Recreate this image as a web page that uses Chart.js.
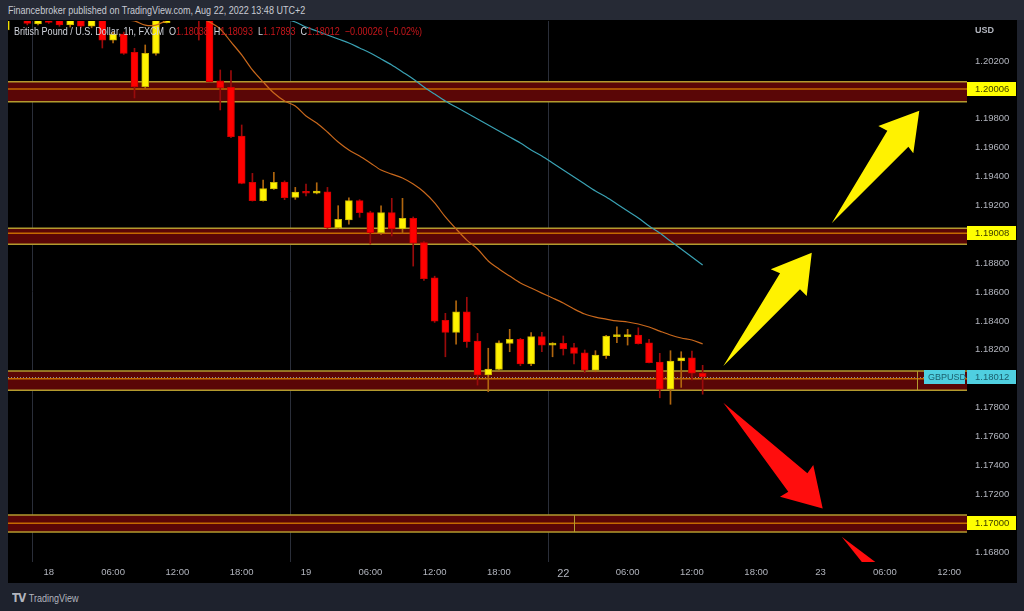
<!DOCTYPE html>
<html>
<head>
<meta charset="utf-8">
<script src="https://cdn.jsdelivr.net/npm/chart.js@4.4.0/dist/chart.umd.min.js"></script>
<style>
  html, body { margin: 0; padding: 0; width: 1024px; height: 611px; overflow: hidden; background: #1e222d;
    font-family: "Liberation Sans", sans-serif; }
  #head { position: absolute; left: 0; top: 0; width: 1024px; height: 20px; background: #262a35; }
  #head span { position: absolute; left: 8px; top: 0; color: #c8cbd3; font-size: 10.5px; line-height: 20px;
    white-space: nowrap; transform: scaleX(0.86); transform-origin: 0 50%; }
  #wrap { position: absolute; left: 8px; top: 20px; width: 1009px; height: 563px; background: #000; }
  #foot { position: absolute; left: 12px; top: 590px; color: #b2b5be; font-size: 10.5px; line-height: 16px;
    white-space: nowrap; transform: scaleX(0.86); transform-origin: 0 50%; }
  #foot b { font-family: "DejaVu Sans", sans-serif; font-weight: 900; font-size: 12px; letter-spacing: -1px; margin-right: 4px; }
</style>
</head>
<body>
<div id="head"><span>Financebroker published on TradingView.com, Aug 22, 2022 13:48 UTC+2</span></div>
<div id="wrap"><canvas id="canvas" width="1009" height="563"></canvas></div>
<div id="foot"><b>TV</b>TradingView</div>
<script>
// GBPUSD, 1h candles, FXCM. bar index 0 = Aug 18 00:00
let firstBar = -4;

let opens = [
  1.20415, 1.2062, 1.2056, 1.20456, 1.2054, 1.2052, 1.20449, 1.2052, 1.20442, 1.2053,
  1.20345, 1.20387, 1.2026, 1.20022, 1.20253, 1.20465, 1.2060, 1.2072, 1.2065, 1.2056,
  1.20062, 1.20018, 1.19681, 1.1936, 1.19233, 1.19314, 1.19362, 1.19256, 1.19295, 1.19284,
  1.19295, 1.19046, 1.19099, 1.19233, 1.1915, 1.19011, 1.1915, 1.19037, 1.19111, 1.18942,
  1.18699, 1.18404, 1.18321, 1.18464, 1.18261, 1.18026, 1.18065, 1.18244, 1.18273, 1.18102,
  1.18291, 1.18233, 1.18245, 1.18215, 1.1818, 1.1806, 1.18159, 1.18291, 1.18291, 1.18303,
  1.18249, 1.18116, 1.17927, 1.18123, 1.18145, 1.18038
];
let highs = [
  1.2066, 1.2068, 1.2060, 1.2058, 1.2057, 1.2055, 1.2056, 1.2054, 1.2056, 1.2056,
  1.2040, 1.2040, 1.20288, 1.20311, 1.2052, 1.2066, 1.2080, 1.2078, 1.2070, 1.2060,
  1.20138, 1.20133, 1.19757, 1.19422, 1.19376, 1.19429, 1.1937, 1.19325, 1.19348, 1.19357,
  1.19325, 1.19198, 1.19253, 1.1924, 1.1916, 1.19198, 1.19249, 1.19249, 1.1912, 1.1895,
  1.1871, 1.18453, 1.1854, 1.18564, 1.18314, 1.18211, 1.18263, 1.18342, 1.1828, 1.18319,
  1.18321, 1.1825, 1.18296, 1.18245, 1.18199, 1.18194, 1.183, 1.1836, 1.18342, 1.18353,
  1.18273, 1.18176, 1.18194, 1.18187, 1.18192, 1.18093
];
let lows = [
  1.2040, 1.2050, 1.2045, 1.2045, 1.2046, 1.2044, 1.20435, 1.2043, 1.2043, 1.2029,
  1.20325, 1.20246, 1.19944, 1.2001, 1.2024, 1.20463, 1.2055, 1.2058, 1.20345, 1.20055,
  1.19861, 1.1967, 1.1935, 1.1923, 1.1923, 1.1931, 1.1924, 1.19242, 1.19265, 1.1928,
  1.1904, 1.1904, 1.19071, 1.19118, 1.18933, 1.1900, 1.18988, 1.19007, 1.1878, 1.1868,
  1.1839, 1.18152, 1.1824, 1.18217, 1.17956, 1.1791, 1.1806, 1.18187, 1.1809, 1.1809,
  1.18187, 1.18152, 1.18164, 1.18102, 1.18041, 1.18048, 1.18141, 1.18249, 1.18233, 1.1824,
  1.1811, 1.17868, 1.17823, 1.1794, 1.17991, 1.17893
];
let closes = [
  1.2062, 1.2056, 1.20461, 1.2054, 1.20468, 1.20449, 1.2052, 1.20442, 1.2053, 1.20345,
  1.20387, 1.20253, 1.20022, 1.20253, 1.2049, 1.2060, 1.2072, 1.2065, 1.2056, 1.20057,
  1.20015, 1.19676, 1.19353, 1.19233, 1.19316, 1.1936, 1.19253, 1.19293, 1.19284, 1.193,
  1.19046, 1.19104, 1.19233, 1.1915, 1.19011, 1.1915, 1.19037, 1.19111, 1.18938, 1.18692,
  1.18399, 1.18321, 1.18464, 1.18256, 1.18026, 1.18067, 1.18249, 1.18273, 1.18102, 1.18291,
  1.18233, 1.18245, 1.18206, 1.18176, 1.1806, 1.18164, 1.18296, 1.18296, 1.18305, 1.18242,
  1.18111, 1.17927, 1.18123, 1.18145, 1.18038, 1.18012
];

// the two moving averages (orange starts at firstBar, teal at slowStart)
let maFast = [
  1.2054, 1.2053, 1.2053, 1.2052, 1.2052, 1.2051, 1.2051, 1.2050, 1.2050, 1.2049,
  1.2049, 1.20485, 1.20477, 1.20449, 1.20449, 1.2048, 1.2051, 1.2052, 1.2050, 1.2047,
  1.20422, 1.20332, 1.20242, 1.20138, 1.20055, 1.19978, 1.19923, 1.19888, 1.19819, 1.19771,
  1.19708, 1.19639, 1.19584, 1.19542, 1.19494, 1.19445, 1.19417, 1.1939, 1.19348, 1.19293,
  1.19217, 1.1912, 1.19037, 1.1896, 1.18898, 1.18815, 1.1876, 1.18711, 1.18663, 1.18628,
  1.18593, 1.18559, 1.18524, 1.18483, 1.18448, 1.18427, 1.18413, 1.184, 1.18393, 1.18379,
  1.18358, 1.1833, 1.18303, 1.18282, 1.18268, 1.18241
];
let slowStart = 20;
let maSlow = [
  1.2052, 1.2050, 1.20491, 1.2047, 1.20435, 1.20408, 1.2038, 1.20352, 1.20325, 1.2029,
  1.20255, 1.20214, 1.20172, 1.20124, 1.20075, 1.2002, 1.19971, 1.19923, 1.19881, 1.1984,
  1.19798, 1.19757, 1.19715, 1.19674, 1.19632, 1.19584, 1.19542, 1.19494, 1.19445, 1.19397,
  1.19348, 1.193, 1.19258, 1.1921, 1.19161, 1.19113, 1.19057, 1.19009, 1.18953, 1.18898,
  1.18843, 1.18787
];

// axes
let xTickIdx = [0, 6, 12, 18, 24, 30, 36, 42, 48, 54, 60, 66, 72, 78, 84];
let xTickText = ['18', '06:00', '12:00', '18:00', '19', '06:00', '12:00', '18:00', '22', '06:00', '12:00', '18:00', '23', '06:00', '12:00'];
let yTicks = [1.168, 1.172, 1.174, 1.176, 1.178, 1.182, 1.184, 1.186, 1.188, 1.192, 1.194, 1.196, 1.198, 1.202];
let sessionBreaks = [-1.6, 22.5, 46.6];

// support / resistance zones drawn on the chart
let zoneTop = [1.20057, 1.19042, 1.18053, 1.17056];
let zoneBottom = [1.19918, 1.18931, 1.1792, 1.16938];
let zoneMid = [1.20006, 1.19008, 1.18, 1.17];
let zoneMarks = [null, null, 81, 49];
let zoneLabels = [1.20006, 1.19008, 1.17000];
let lastPrice = 1.18012;

// arrows, as [bar, price] points
let arrowsYellow = [
  [[62.93, 1.18088], [68.22, 1.1873], [67.35, 1.18758], [71.18, 1.18872], [70.71, 1.18573], [70.08, 1.18619]],
  [[73.04, 1.19076], [78.23, 1.19717], [77.39, 1.1975], [81.21, 1.19856], [80.65, 1.19561], [80.19, 1.19607]]
];
let arrowsRed = [
  [[62.93, 1.17834], [70.77, 1.17345], [71.32, 1.17402], [72.2, 1.17102], [68.22, 1.17183], [68.99, 1.17217]],
  [[73.97, 1.16906], [81.84, 1.16467], [78.69, 1.16467]]
];

let upBody = [], dnBody = [], upWick = [], dnWick = [];
for (let k = 0; k < opens.length; k++) {
  let x = firstBar + k;
  let o = opens[k], c = closes[k];
  let body = {x: x, y: [Math.min(o, c), Math.max(o, c)]};
  let wick = {x: x, y: [lows[k], highs[k]]};
  if (c >= o) { upBody.push(body); upWick.push(wick); }
  else { dnBody.push(body); dnWick.push(wick); }
}
let fastLine = maFast.map((v, k) => ({x: firstBar + k, y: v}));
let slowLine = maSlow.map((v, k) => ({x: slowStart + k, y: v}));

let fontFam = '"Liberation Sans", sans-serif';
Chart.defaults.font.family = fontFam;

function polygon(ctx, chart, pts, color) {
  let x = chart.scales.x, y = chart.scales.y;
  ctx.beginPath();
  pts.forEach((p, i) => {
    let px = x.getPixelForValue(p[0]), py = y.getPixelForValue(p[1]);
    if (i == 0) ctx.moveTo(px, py); else ctx.lineTo(px, py);
  });
  ctx.closePath();
  ctx.fillStyle = color;
  ctx.fill();
}

function priceBox(ctx, yPix, left, text, bg, fg) {
  ctx.fillStyle = bg;
  ctx.fillRect(left, Math.round(yPix) - 7, 49, 14);
  ctx.fillStyle = fg;
  ctx.textBaseline = 'middle';
  ctx.textAlign = 'left';
  ctx.fillText(text, left + 8, Math.round(yPix) + 0.5);
}

let tvPlugin = {
  id: 'tv',
  beforeDatasetsDraw(chart) {
    let {ctx, chartArea: a, scales: {x, y}} = chart;
    ctx.save();
    ctx.beginPath();
    ctx.rect(a.left, a.top, a.right - a.left, a.bottom - a.top);
    ctx.clip();

    ctx.strokeStyle = '#2a2e39';
    ctx.lineWidth = 1;
    sessionBreaks.forEach(v => {
      let px = Math.round(x.getPixelForValue(v)) + 0.5;
      ctx.beginPath(); ctx.moveTo(px, a.top); ctx.lineTo(px, a.bottom); ctx.stroke();
    });

    for (let k = 0; k < zoneTop.length; k++) {
      let t = y.getPixelForValue(zoneTop[k]);
      let b = y.getPixelForValue(zoneBottom[k]);
      let m = y.getPixelForValue(zoneMid[k]);
      ctx.fillStyle = '#5a0606';
      ctx.fillRect(a.left, t, a.right - a.left, b - t);
      ctx.strokeStyle = '#b39a2e';
      ctx.lineWidth = 1.5;
      ctx.beginPath(); ctx.moveTo(a.left, t); ctx.lineTo(a.right, t); ctx.stroke();
      ctx.beginPath(); ctx.moveTo(a.left, b); ctx.lineTo(a.right, b); ctx.stroke();
      ctx.strokeStyle = '#c46a00';
      ctx.beginPath(); ctx.moveTo(a.left, m); ctx.lineTo(a.right, m); ctx.stroke();
      if (zoneMarks[k] != null) {
        let px = Math.round(x.getPixelForValue(zoneMarks[k])) + 0.5;
        ctx.strokeStyle = '#b39a2e';
        ctx.lineWidth = 1;
        ctx.beginPath(); ctx.moveTo(px, t); ctx.lineTo(px, b); ctx.stroke();
      }
    }

    // last price line
    let lp = Math.round(y.getPixelForValue(lastPrice)) + 0.5;
    ctx.strokeStyle = '#8d8f99';
    ctx.lineWidth = 1;
    ctx.setLineDash([1, 2]);
    ctx.beginPath(); ctx.moveTo(a.left, lp); ctx.lineTo(a.right, lp); ctx.stroke();
    ctx.setLineDash([]);
    ctx.restore();
  },
  afterDatasetsDraw(chart) {
    let {ctx, chartArea: a, scales: {x, y}} = chart;
    ctx.save();
    ctx.beginPath();
    ctx.rect(a.left, a.top, a.right - a.left, a.bottom - a.top);
    ctx.clip();
    arrowsYellow.forEach(p => polygon(ctx, chart, p, '#fff200'));
    arrowsRed.forEach(p => polygon(ctx, chart, p, '#ff0d0d'));

    // GBPUSD tag
    let lp = y.getPixelForValue(lastPrice);
    ctx.fillStyle = '#4fcfe0';
    ctx.fillRect(a.right - 43, Math.round(lp) - 7, 41, 14);
    ctx.fillStyle = '#1b5d6b';
    ctx.font = '9px ' + fontFam;
    ctx.textBaseline = 'middle';
    ctx.textAlign = 'left';
    ctx.fillText('GBPUSD', a.right - 39, Math.round(lp) + 0.5);

    // legend line, slightly condensed
    let n = closes.length - 1;
    let chg = closes[n] - closes[n - 1];
    let pct = chg / closes[n - 1] * 100;
    let parts = [
      ['British Pound / U.S. Dollar, 1h, FXCM  ', '#d1d4dc'],
      ['O', '#d1d4dc'], [opens[n].toFixed(5), '#c8161b'],
      ['  H', '#d1d4dc'], [highs[n].toFixed(5), '#c8161b'],
      ['  L', '#d1d4dc'], [lows[n].toFixed(5), '#c8161b'],
      ['  C', '#d1d4dc'], [closes[n].toFixed(5), '#c8161b'],
      ['  \u2212' + Math.abs(chg).toFixed(5) + ' (\u2212' + Math.abs(pct).toFixed(2) + '%)', '#c8161b']
    ];
    ctx.translate(6, 12);
    ctx.scale(0.86, 1);
    ctx.font = '10.5px ' + fontFam;
    let tx = 0;
    parts.forEach(p => {
      ctx.fillStyle = p[1];
      ctx.fillText(p[0], tx, 0);
      tx += ctx.measureText(p[0]).width;
    });
    ctx.restore();

    // price scale boxes
    ctx.save();
    ctx.font = '9.5px ' + fontFam;
    zoneLabels.forEach(v => priceBox(ctx, y.getPixelForValue(v), a.right, v.toFixed(5), '#ffff00', '#3b3b00'));
    priceBox(ctx, lp, a.right, lastPrice.toFixed(5), '#4fcfe0', '#1b5d6b');
    ctx.fillStyle = '#b2b5be';
    ctx.font = 'bold 9px ' + fontFam;
    ctx.fillText('USD', a.right + 8, 11);
    ctx.restore();
  }
};

new Chart(document.getElementById('canvas'), {
  type: 'bar',
  data: {
    datasets: [
      {type: 'line', data: fastLine, borderColor: '#c9681c', borderWidth: 1.2, pointRadius: 0, tension: 0.3, clip: 0, order: 0},
      {type: 'line', data: slowLine, borderColor: '#3aa2b4', borderWidth: 1.2, pointRadius: 0, tension: 0.3, clip: 0, order: 0},
      {data: upBody, backgroundColor: '#fff200', borderColor: '#c9b400', borderWidth: 1, borderSkipped: false,
        barThickness: 7, minBarLength: 2, grouped: false, clip: 0, order: 1},
      {data: dnBody, backgroundColor: '#ff0000', borderColor: '#d20000', borderWidth: 1, borderSkipped: false,
        barThickness: 7, minBarLength: 2, grouped: false, clip: 0, order: 1},
      {data: upWick, backgroundColor: '#b0660e', barThickness: 1, grouped: false, clip: 0, order: 2},
      {data: dnWick, backgroundColor: '#9a0b0b', barThickness: 1, grouped: false, clip: 0, order: 2}
    ]
  },
  options: {
    responsive: false,
    animation: false,
    devicePixelRatio: 1,
    layout: {padding: {top: 1, left: 0, right: 0, bottom: 0}},
    plugins: {legend: {display: false}, tooltip: {enabled: false}},
    scales: {
      x: {
        type: 'linear', min: -3.8, max: 85.66, offset: false,
        grid: {display: false, drawTicks: false, offset: false},
        border: {display: false},
        afterBuildTicks: s => { s.ticks = xTickIdx.map(v => ({value: v})); },
        afterFit: s => { s.height = 21; s.paddingLeft = 0; s.paddingRight = 0; },
        ticks: {
          autoSkip: false, maxRotation: 0, color: '#b2b5be', padding: 5,
          font: c => ({size: (c.tick && c.tick.label == '22') ? 11 : 9.5, family: fontFam}),
          callback: (v, i) => xTickText[i]
        }
      },
      y: {
        type: 'linear', position: 'right', min: 1.16731, max: 1.20477,
        grid: {display: false, drawTicks: false},
        border: {display: false},
        afterBuildTicks: s => { s.ticks = yTicks.map(v => ({value: v})); },
        afterFit: s => { s.width = 50; s.paddingTop = 0; s.paddingBottom = 0; },
        ticks: {autoSkip: false, color: '#b2b5be', padding: 8, font: {size: 9.5},
          callback: v => v.toFixed(5)}
      }
    }
  },
  plugins: [tvPlugin]
});
</script>
</body>
</html>
